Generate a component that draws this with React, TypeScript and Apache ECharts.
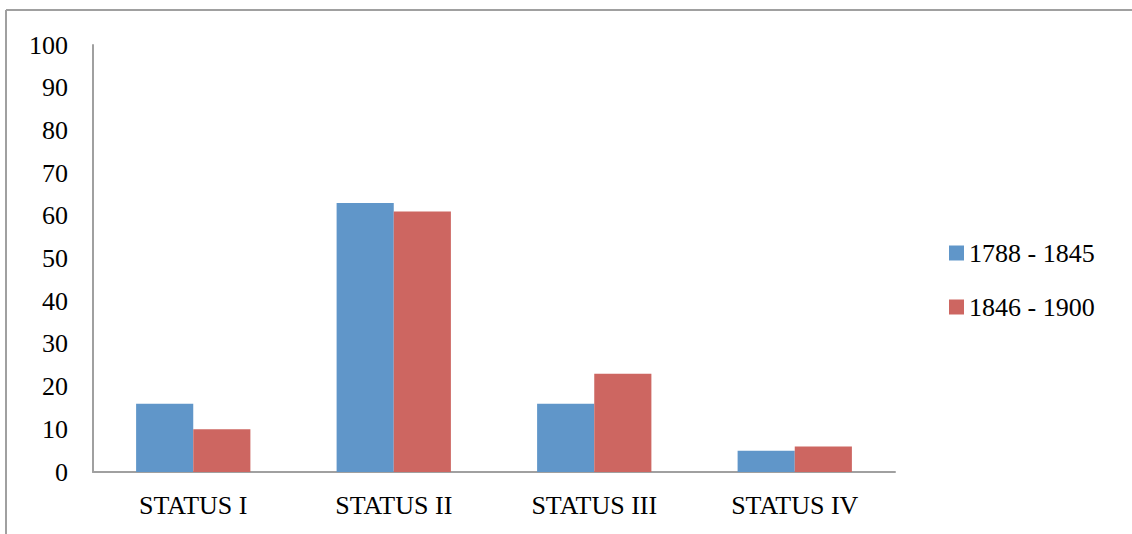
import React, { useEffect, useRef } from "react";
import * as echarts from "echarts";

const categories = ["STATUS I", "STATUS II", "STATUS III", "STATUS IV"];
const seriesNames = ["1788 - 1845", "1846 - 1900"];
const values1788 = [16, 63, 16, 5];
const values1846 = [10, 61, 23, 6];
const colors = ["#6096C9", "#CD6661"];

const FONT = "'Liberation Serif', 'Times New Roman', serif";

export default function App() {
  const ref = useRef<HTMLDivElement>(null);
  useEffect(() => {
    document.body.style.margin = "0";
    const chart = echarts.init(ref.current!, null, { renderer: "svg" });
    chart.setOption({
      animation: false,
      backgroundColor: "#ffffff",
      textStyle: { fontFamily: FONT },
      grid: { left: 93, top: 45, right: 237, bottom: 62, containLabel: false },
      legend: {
        orient: "vertical",
        left: 944,
        top: 235,
        itemWidth: 15,
        itemHeight: 15,
        itemGap: 28,
        icon: "rect",
        textStyle: { fontFamily: FONT, fontSize: 26, color: "#000" },
        data: seriesNames,
      },
      xAxis: {
        type: "category",
        data: categories,
        axisLine: { show: true, lineStyle: { color: "#A0A0A0", width: 2 } },
        axisTick: { show: false },
        axisLabel: { fontFamily: FONT, fontSize: 26, color: "#000", margin: 20 },
      },
      yAxis: {
        type: "value",
        min: 0,
        max: 100,
        interval: 10,
        axisLine: { show: true, lineStyle: { color: "#A0A0A0", width: 2 } },
        axisTick: { show: false },
        splitLine: { show: false },
        axisLabel: { fontFamily: FONT, fontSize: 26, color: "#000", margin: 25 },
      },
      series: [
        {
          name: seriesNames[0],
          type: "bar",
          data: values1788,
          itemStyle: { color: colors[0] },
          barGap: "0%",
          barCategoryGap: "43%",
        },
        {
          name: seriesNames[1],
          type: "bar",
          data: values1846,
          itemStyle: { color: colors[1] },
          barGap: "0%",
          barCategoryGap: "43%",
        },
      ],
      graphic: [
        {
          type: "line",
          shape: { x1: 6, y1: 10, x2: 1132, y2: 10 },
          style: { stroke: "#A0A0A0", lineWidth: 2 },
        },
        {
          type: "line",
          shape: { x1: 6, y1: 10, x2: 6, y2: 534 },
          style: { stroke: "#A0A0A0", lineWidth: 2 },
        },
      ],
    });
    return () => chart.dispose();
  }, []);
  return <div ref={ref} style={{ width: 1132, height: 534 }} />;
}
